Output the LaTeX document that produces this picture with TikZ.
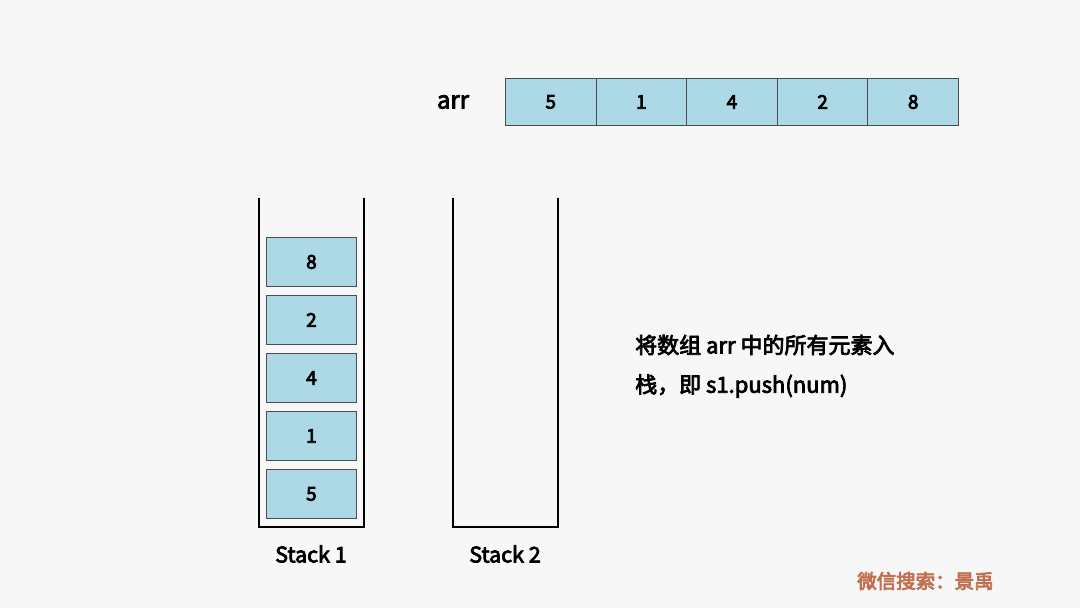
\documentclass[tikz,border=0pt]{standalone}
\usepackage{fontspec}
\setmainfont{Noto Sans CJK SC}
\newcommand\medw[1]{\special{pdf:literal 2 Tr 0.75 w}#1\special{pdf:literal 0 Tr 1 w}}
\begin{document}
\begin{tikzpicture}[x=1pt,y=-1pt,
  cellbox/.style={draw=black!70,fill=cellblue,line width=0.9pt,minimum width=90.6pt,minimum height=47pt,inner sep=0pt,anchor=north west,font=\fontsize{19}{20}\selectfont},
  stackbox/.style={draw=black!70,fill=cellblue,line width=0.9pt,minimum width=90pt,minimum height=49pt,inner sep=0pt,anchor=north west,font=\fontsize{19}{20}\selectfont},
  wall/.style={line width=2.6pt,line cap=butt,line join=miter},
  lbl/.style={font=\fontsize{21.5}{24}\selectfont,inner sep=0pt}]
\definecolor{cellblue}{HTML}{ADD8E6}
\definecolor{bgc}{HTML}{F7F7F7}
\definecolor{wm}{HTML}{C07050}
\fill[bgc] (0,0) rectangle (1080,608);
\useasboundingbox (0,0) rectangle (1080,608);
% array
\foreach \v [count=\i from 0] in {5,1,4,2,8}{
  \node[cellbox] (a\i) at (505+90.6*\i,78) {\medw{\v}};
}
\node[inner sep=0pt,font=\fontsize{22}{24}\selectfont,scale=1.09] (arrlbl) at (453,102) {\medw{arr}};
% stacks
\coordinate (s1tl) at (259,198);
\coordinate (s1bl) at (259,527);
\coordinate (s1br) at (364,527);
\coordinate (s1tr) at (364,198);
\draw[wall] (s1tl) -- (s1bl) -- (s1br) -- (s1tr);
\coordinate (s2tl) at (453,198);
\coordinate (s2bl) at (453,527);
\coordinate (s2br) at (558,527);
\coordinate (s2tr) at (558,198);
\draw[wall] (s2tl) -- (s2bl) -- (s2br) -- (s2tr);
\foreach \v [count=\i from 0] in {8,2,4,1,5}{
  \node[stackbox] (s\i) at (266,237+58*\i) {\medw{\v}};
}
\node[lbl] (st1) at (311,554) {\medw{Stack 1}};
\node[lbl] (st2) at (505,554) {\medw{Stack 2}};
% description
\node[anchor=west,inner sep=0pt,font=\fontsize{22}{24}\selectfont] (d1) at (635,345) {\medw{将数组 arr 中的所有元素入}};
\node[anchor=west,inner sep=0pt,font=\fontsize{22}{24}\selectfont] (d2) at (635,386) {\medw{栈，即 s1.push(num)}};
% watermark
\node[anchor=west,inner sep=0pt,text=wm,font=\fontsize{19.5}{22}\selectfont] (wmk) at (857,581) {\medw{微信搜索：景禹}};
\end{tikzpicture}
\end{document}
